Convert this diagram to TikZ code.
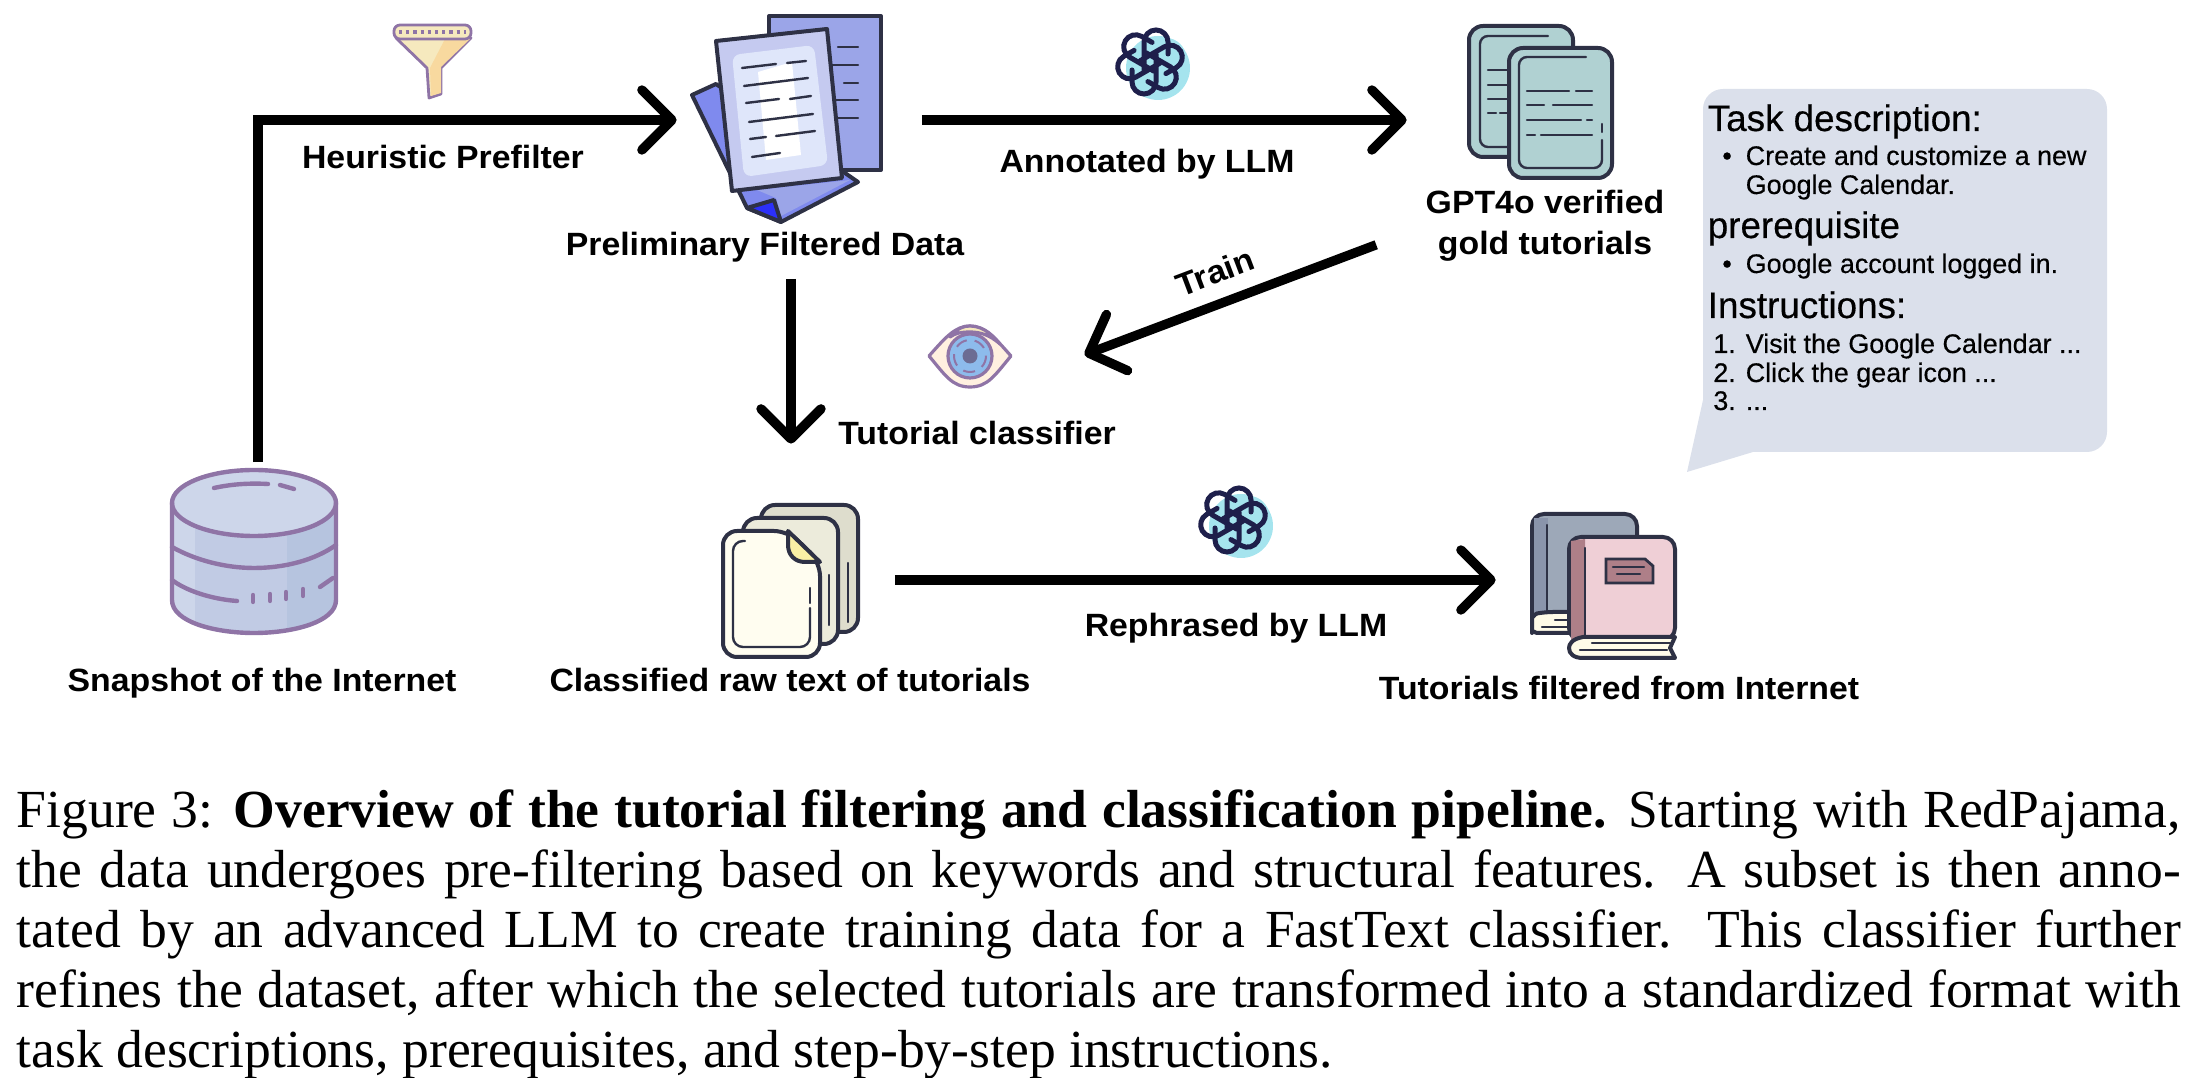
\documentclass[tikz,border=0pt]{standalone}
\usepackage{fontspec}
\setmainfont{Liberation Serif}
\newfontfamily\labelfont[FakeStretch=1.05]{Liberation Sans}
\newfontfamily\bubblefont[FakeBold=0.4]{Liberation Sans}
\usetikzlibrary{arrows.meta,positioning}
\definecolor{ink}{HTML}{2E3145}
\definecolor{knot}{HTML}{1E1F4B}
\definecolor{plum}{HTML}{8F74A6}
\definecolor{bubble}{HTML}{DBE0EB}
\definecolor{dbtop}{HTML}{CDD6EA}
\definecolor{dbmid}{HTML}{C1CBE4}
\definecolor{dbdark}{HTML}{B6C4DF}
\definecolor{sheetback}{HTML}{9BA5E8}
\definecolor{sheetleft}{HTML}{7F8AEE}
\definecolor{sheetfront}{HTML}{C5CAF0}
\definecolor{sheetinner}{HTML}{DFE6FA}
\definecolor{goldcard}{HTML}{B0D1D2}
\definecolor{rawback}{HTML}{DEDDCD}
\definecolor{rawmid}{HTML}{ECEBDB}
\definecolor{rawfront}{HTML}{FFFDF0}
\definecolor{rawfold}{HTML}{F9EFA5}
\definecolor{bookgray}{HTML}{9DA8B8}
\definecolor{bookspine}{HTML}{8A94AB}
\definecolor{bookpink}{HTML}{EFCFD6}
\definecolor{bookmauve}{HTML}{AE7F88}
\definecolor{bookpage}{HTML}{FFFBE8}
\definecolor{funnelpale}{HTML}{F6E9BE}
\definecolor{funneldeep}{HTML}{F8D99F}
\definecolor{blob}{HTML}{A5E4EE}
\definecolor{iris}{HTML}{8DBBEC}
\begin{document}
\begin{tikzpicture}[x=0.25pt,y=-0.25pt,every node/.style={font=\labelfont\bfseries\fontsize{8.05}{10}\selectfont,inner sep=0pt},
	flow/.style={line width=2.35pt,shorten >=-.6pt,-{Straight Barb[length=7.5pt,width=15pt,round]}},
	lbl/.style={anchor=base},
	bubblehead/.style={anchor=base west,font=\bubblefont\fontsize{9.2}{10}\selectfont},
	bubbleline/.style={anchor=base west,font=\bubblefont\fontsize{6.72}{9}\selectfont},
	outline/.style={draw=ink,line width=1pt,line join=round,line cap=round},
	thin ink/.style={draw=ink,line width=.6pt,line cap=round},
	plumline/.style={draw=plum,line width=1.1pt,line cap=round,line join=round},
	gptknot/.pic={
		\fill[blob] (8,6) circle[radius=32];
		\fill[blob] (16,-4) circle[radius=20];
		\foreach \a in {0,60,...,300}
			\draw[knot,line width=1.25pt,line cap=round,rotate=\a] (18,-8) -- (18,-20) arc[start angle=0,end angle=-180,radius=12] -- (-6,8);
	}]
	\useasboundingbox (0,0) rectangle (2188,1078);

	\fill[bubble,rounded corners=5pt] (1703,89) rectangle (2107,452);
	\fill[bubble] (1703,400) -- (1687,472) -- (1753,452) -- (1760,420) -- cycle;

	\node[minimum width=41pt,minimum height=43.5pt] (db) at (258,550) {};
	\fill[dbmid] (172,503) -- (172,600) .. controls (172,622) and (215,633) .. (254,633) .. controls (293,633) and (336,622) .. (336,600) -- (336,503) -- cycle;
	\begin{scope}
		\clip (172,503) -- (172,600) .. controls (172,622) and (215,633) .. (254,633) .. controls (293,633) and (336,622) .. (336,600) -- (336,503) -- cycle;
		\fill[dbtop] (172,503) rectangle (195,633);
		\fill[dbdark] (287,503) rectangle (336,633);
	\end{scope}
	\fill[dbtop] (254,503) ellipse[x radius=82,y radius=33];
	\draw[plumline] (172,503) -- (172,600) .. controls (172,622) and (215,633) .. (254,633) .. controls (293,633) and (336,622) .. (336,600) -- (336,503);
	\draw[plumline] (254,503) ellipse[x radius=82,y radius=33];
	\draw[plumline] (172,547) .. controls (195,560) and (225,568) .. (254,568) .. controls (285,568) and (315,560) .. (336,545);
	\draw[plumline] (172,580) .. controls (185,590) and (210,599) .. (237,601);
	\draw[plumline] (214,488) .. controls (232,484) and (250,483) .. (268,484) (280,485) -- (294,489) (320,587) -- (333,578);
	\draw[plumline] (253,595) -- (253,602) (270,594) -- (270,601) (286,592) -- (286,599) (303,589) -- (303,596);

	\begin{scope}[draw=plum,line width=.7pt,line join=round]
		\filldraw[fill=funnelpale] (396,38) -- (471,38) -- (441,68) -- (441,94) -- (429,98) -- (427,68) -- cycle;
		\fill[funneldeep] (445,39) -- (470,39) -- (441,67) -- (441,93) -- (431,96) -- (430,68) -- cycle;
		\filldraw[fill=funnelpale,rounded corners=1.5pt] (394,25) rectangle (471,39);
		\draw[densely dotted,line width=.8pt] (399,32) -- (466,32);
	\end{scope}

	\filldraw[outline,fill=sheetback] (769,16) rectangle (881,170);
	\draw[thin ink] (838,47) -- (858,47) (825,65) -- (858,65) (844,83) -- (858,83) (825,100) -- (858,100) (825,118) -- (858,118);
	\filldraw[outline,fill=sheetleft] (692,95) -- (716,84) -- (858,182) -- (781,222) -- (747,208) -- cycle;
	\fill[sheetback] (757,190) -- (850,180) -- (781,216) -- (776,198) -- cycle;
	\filldraw[outline,fill=blue!65!sheetleft] (747,208) -- (774,200) -- (781,222) -- cycle;
	\filldraw[outline,fill=sheetfront] (716,41) -- (827,29) -- (842,178) -- (732,191) -- cycle;
	\fill[sheetinner,rounded corners=2pt] (732,55) -- (814,45) -- (828,165) -- (744,177) -- cycle;
	\fill[white] (758,72) -- (792,62) -- (801,155) -- (766,160) -- cycle;
	\draw[thin ink] (742,68) -- (776,64) (787,63) -- (806,61) (744,86) -- (808,78) (746,103) -- (779,99) (790,99) -- (811,96) (749,122) -- (813,114) (750,139) -- (766,137) (776,136) -- (815,131) (752,157) -- (780,153);

	\pic at (1150,62) {gptknot};
	\pic at (1233,520) {gptknot};

	\filldraw[outline,fill=goldcard,rounded corners=3.5pt] (1469,26) rectangle (1573,157);
	\draw[thin ink,rounded corners=2pt] (1548,36) -- (1480,36) -- (1480,147) -- (1520,147);
	\draw[thin ink] (1488,70) -- (1509,70) (1488,85) -- (1509,85) (1488,99) -- (1509,99) (1488,113) -- (1496,113) (1500,113) -- (1509,113);
	\filldraw[outline,fill=goldcard,rounded corners=3.5pt] (1509,48) rectangle (1612,178);
	\draw[thin ink,rounded corners=2pt] (1586,57) -- (1519,57) -- (1519,168) -- (1602,168) -- (1602,140);
	\draw[thin ink] (1602,132) -- (1602,124) (1527,91) -- (1569,91) (1576,91) -- (1592,91) (1527,105) -- (1544,105) (1553,105) -- (1592,105) (1527,120) -- (1581,120) (1587,120) -- (1592,120) (1527,135) -- (1535,135) (1541,135) -- (1592,135);

	\begin{scope}[draw=plum,line width=.8pt,line join=round]
		\filldraw[fill=orange!12!white] (929,356) .. controls (945,338) and (955,326) .. (970,326) .. controls (985,326) and (995,338) .. (1011,356) .. controls (995,375) and (988,387) .. (970,387) .. controls (952,387) and (945,375) .. (929,356) -- cycle;
		\filldraw[fill=funnelpale] (950,337) .. controls (958,328) and (963,326) .. (970,326) .. controls (985,326) and (995,338) .. (1000,344) .. controls (990,335) and (980,332) .. (970,332) .. controls (962,332) and (955,333) .. (950,337) -- cycle;
		\filldraw[fill=iris] (970,356) circle[radius=22];
		\fill[gray!85!blue] (970,356) circle[radius=7.5];
		\draw[densely dashed,line width=.5pt] (970,356) circle[radius=16];
	\end{scope}

	\filldraw[outline,fill=rawback,rounded corners=3.5pt] (761,505) rectangle (858,632);
	\draw[thin ink] (848,563) -- (848,622);
	\filldraw[outline,fill=rawmid,rounded corners=3.5pt] (743,518) rectangle (838,644);
	\draw[thin ink] (829,575) -- (829,625);
	\filldraw[outline,fill=rawfront,rounded corners=3.5pt] (723,531) -- (788,531) -- (820,562) -- (820,657) -- (723,657) -- cycle;
	\filldraw[outline,fill=rawfold] (788,531) -- (820,562) -- (805,562) .. controls (795,562) and (788,555) .. (788,545) -- cycle;
	\draw[thin ink,rounded corners=2.5pt] (745,541) -- (733,541) -- (733,647) -- (810,647) -- (810,608);
	\draw[thin ink] (810,603) -- (810,588);

	\filldraw[outline,fill=bookgray,rounded corners=3pt] (1532,633) -- (1532,514) -- (1637,514) -- (1637,620) -- (1570,620);
	\fill[bookspine] (1534,518) rectangle (1548,612);
	\draw[thin ink] (1547,525) -- (1547,612);
	\filldraw[outline,fill=bookpage,rounded corners=2pt] (1569,612) -- (1545,612) .. controls (1534,614) and (1532,620) .. (1532,624) .. controls (1532,630) and (1536,633) .. (1545,633) -- (1569,633);
	\draw[thin ink] (1555,620) -- (1569,620) (1542,627) -- (1569,627);

	\filldraw[outline,fill=bookpink,rounded corners=3pt] (1569,640) -- (1569,537) -- (1675,537) -- (1675,640) -- cycle;
	\fill[bookmauve] (1571,541) -- (1585,539) -- (1585,636) -- (1571,640) -- cycle;
	\draw[thin ink] (1585,548) -- (1585,636);
	\filldraw[outline,fill=bookpage] (1675,637) -- (1583,637) .. controls (1572,639) and (1569,644) .. (1569,648) .. controls (1569,654) and (1574,658) .. (1583,658) -- (1675,658) -- (1670,648) -- cycle;
	\draw[thin ink] (1592,643) -- (1670,643) (1580,650) -- (1667,650);
	\filldraw[fill=bookmauve,draw=ink,line width=.7pt] (1606,559) -- (1645,559) -- (1653,566) -- (1653,583) -- (1606,583) -- cycle;
	\draw[thin ink] (1613,567) -- (1644,567) (1617,574) -- (1640,574);

	\node[minimum width=61.5pt,minimum height=79pt] (prelim) at (798,120) {};
	\node[minimum width=67.5pt,minimum height=62pt] (gold) at (1540,120) {};
	\node[minimum width=58pt,minimum height=15pt] (eye) at (970,354) {};
	\node[minimum width=51.5pt,minimum height=69pt] (raw) at (791,580) {};
	\node[minimum width=53pt,minimum height=25pt] (books) at (1600,580) {};

	\draw[flow] (db.north) |- (prelim.west);
	\draw[flow] (prelim.east) -- (gold.west);
	\draw[flow] ([xshift=-7pt]gold.south west) -- (eye.east);
	\draw[flow] ([xshift=-1.75pt]prelim.south) -- (raw.north);
	\draw[flow] (raw.east) -- (books.west);

	\node[lbl] (heuristic) at (443,169) {Heuristic Prefilter};
	\node[lbl] (annotated) at (1147,173) {Annotated by LLM};
	\node[lbl] (prelimlabel) at (765,256) {Preliminary Filtered Data};
	\node[lbl] (goldlabel) at (1545,214) {GPT4o verified};
	\node[lbl] (goldlabeltwo) at (1545,255) {gold tutorials};
	\node[rotate=20.7] (train) at (1215,272) {Train};
	\node[lbl] (classifier) at (977,445) {Tutorial classifier};
	\node[lbl] (snapshot) at (262,692) {Snapshot of the Internet};
	\node[lbl] (rawlabel) at (790,692) {Classified raw text of tutorials};
	\node[lbl] (rephrased) at (1236,637) {Rephrased by LLM};
	\node[lbl] (bookslabel) at (1619,700) {Tutorials filtered from Internet};

	\node[bubblehead] (taskhead) at (1707,131) {Task description:};
	\node[bubbleline] (taskone) at (1745,165) {\llap{\textbullet\hspace{3.5pt}}Create and customize a new};
	\node[bubbleline] (tasktwo) at (1745,194) {Google Calendar.};
	\node[bubblehead] (prehead) at (1707,238) {prerequisite};
	\node[bubbleline] (preone) at (1745,273) {\llap{\textbullet\hspace{3.5pt}}Google account logged in.};
	\node[bubblehead] (inshead) at (1707,318) {Instructions:};
	\node[bubbleline] (insone) at (1745,353) {\llap{1.\hspace{2.5pt}}Visit the Google Calendar ...};
	\node[bubbleline] (instwo) at (1745,382) {\llap{2.\hspace{2.5pt}}Click the gear icon ...};
	\node[bubbleline] (insthree) at (1745,410) {\llap{3.\hspace{2.5pt}}...};

	\node[anchor=north west,text width=541pt,align=justify,font=\rmfamily\mdseries\fontsize{13.4}{15}\selectfont] (caption) at (16,789) {Figure 3: \textbf{Overview of the tutorial filtering and classification pipeline.} Starting with RedPajama,\linebreak the data undergoes pre-filtering based on keywords and structural features. A subset is then anno-\linebreak tated by an advanced LLM to create training data for a FastText classifier. This classifier further\linebreak refines the dataset, after which the selected tutorials are transformed into a standardized format with\linebreak task descriptions, prerequisites, and step-by-step instructions.};
\end{tikzpicture}
\end{document}
